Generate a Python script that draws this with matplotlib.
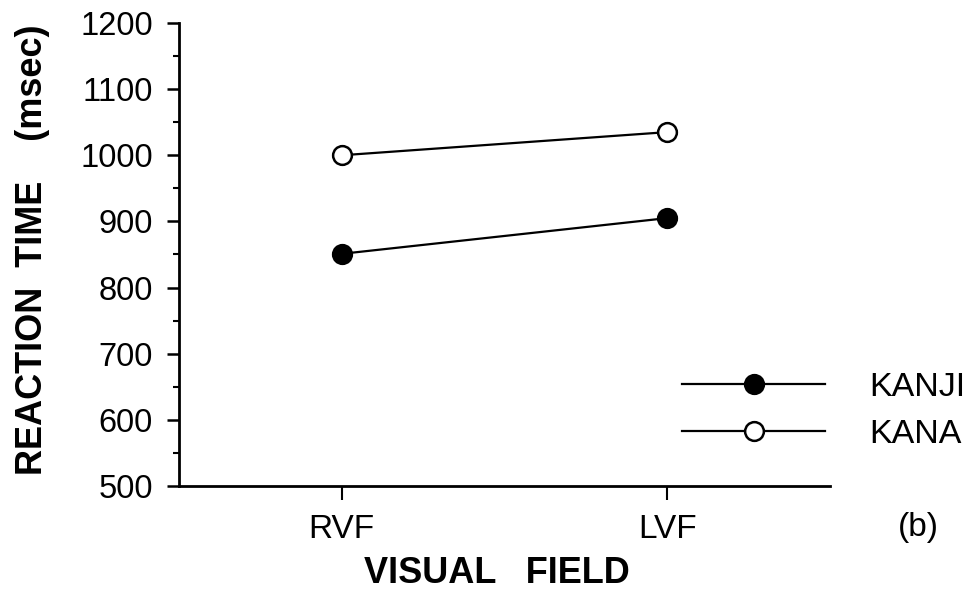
import matplotlib
matplotlib.use("Agg")
import matplotlib.pyplot as plt
from matplotlib.ticker import MultipleLocator

plt.rcParams['font.family'] = ['Liberation Sans', 'DejaVu Sans']

fields = ['RVF', 'LVF']
kanji = [851, 905]
kana = [1000, 1035]
yticks = [500, 600, 700, 800, 900, 1000, 1100, 1200]

fig = plt.figure(figsize=(9.8, 5.97), dpi=100)
ax = fig.add_axes([0.1827, 0.186, 0.6643, 0.7755])

x = list(range(len(fields)))
ax.plot(x, kanji, color='black', lw=1.6, marker='o', ms=13.5,
        mfc='black', mec='black', mew=1.8, label='KANJI')
ax.plot(x, kana, color='black', lw=1.6, marker='o', ms=13.5,
        mfc='white', mec='black', mew=1.8, label='KANA')

ax.set_xlim(-0.5, 1.5)
ax.set_ylim(500, 1200)
ax.set_xticks(x)
ax.set_xticklabels(fields)
ax.set_yticks(yticks)
ax.yaxis.set_minor_locator(MultipleLocator(50))

for s in ['top', 'right']:
    ax.spines[s].set_visible(False)
for s in ['left', 'bottom']:
    ax.spines[s].set_linewidth(2)

ax.tick_params(axis='y', which='major', length=9, width=1.8, labelsize=23.5, pad=10)
ax.tick_params(axis='y', which='minor', length=4.5, width=1.5)
ax.tick_params(axis='x', which='major', length=10, width=1.5, labelsize=24, pad=10)

ax.set_xlabel('VISUAL   FIELD', fontsize=26, fontweight='bold', va='center')
ax.xaxis.set_label_coords(0.488, -0.19)
ax.set_ylabel('REACTION  TIME    (msec)', fontsize=26, fontweight='bold',
              va='center', ha='center')
ax.yaxis.set_label_coords(-0.225, 0.51)

# legend sits inside the axes, bottom right
ax.legend(loc='center left', bbox_to_anchor=(0.696, 0.312),
          bbox_transform=fig.transFigure, frameon=False, fontsize=24.5,
          handlelength=4.2, handletextpad=1.3, labelspacing=0.46,
          borderpad=0, borderaxespad=0, numpoints=1)

fig.text(0.937, 0.116, '(b)', fontsize=24, ha='center', va='center')

fig.savefig('out.png', dpi=100)
